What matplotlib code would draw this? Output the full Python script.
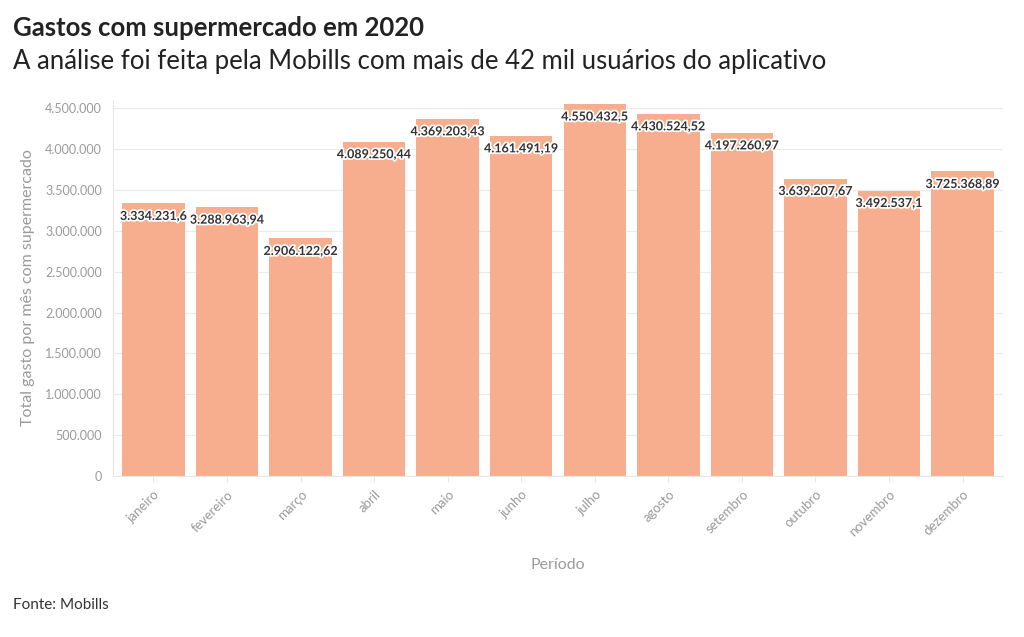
import matplotlib.pyplot as plt
import matplotlib.patheffects as pe
from matplotlib.ticker import FuncFormatter

meses = ["janeiro", "fevereiro", "março", "abril", "maio", "junho",
         "julho", "agosto", "setembro", "outubro", "novembro", "dezembro"]
gastos = [3334231.6, 3288963.94, 2906122.62, 4089250.44, 4369203.43, 4161491.19,
          4550432.5, 4430524.52, 4197260.97, 3639207.67, 3492537.1, 3725368.89]
rotulos = ["3.334.231,6", "3.288.963,94", "2.906.122,62", "4.089.250,44",
           "4.369.203,43", "4.161.491,19", "4.550.432,5", "4.430.524,52",
           "4.197.260,97", "3.639.207,67", "3.492.537,1", "3.725.368,89"]

plt.rcParams['font.family'] = ['Lato', 'DejaVu Sans']

cinza = "#9a9a9a"

fig = plt.figure(figsize=(10.24, 6.37), dpi=100)
ax = fig.add_axes([113 / 1024, 1 - 476 / 637, 890 / 1024, (476 - 100) / 637])

x = range(len(meses))
ax.bar(x, gastos, width=0.85, color="#F6AE8F", zorder=2)

for i, (v, r) in enumerate(zip(gastos, rotulos)):
    ax.annotate(r, (i, v), xytext=(0, -9), textcoords="offset points",
                ha="center", va="center", fontsize=9, fontweight="bold",
                color="#333333", zorder=3,
                path_effects=[pe.withStroke(linewidth=2.5, foreground="white")])

ax.set_xlim(-0.55, 11.55)
ax.set_ylim(0, 4.6e6)
ax.set_yticks(range(0, 4500001, 500000))
ax.yaxis.set_major_formatter(FuncFormatter(lambda v, p: f"{int(v):,}".replace(",", ".")))
ax.grid(axis="y", color="#ebebeb", linewidth=0.8, zorder=0)
ax.set_xticks(list(x))
ax.set_xticklabels(meses, rotation=45, ha="right", rotation_mode="anchor")

for s in ["top", "right"]:
    ax.spines[s].set_visible(False)
ax.spines["left"].set_color("#e6e6e6")
ax.spines["bottom"].set_color("#e6e6e6")
ax.tick_params(axis="both", colors=cinza, labelsize=9, length=4)
ax.tick_params(axis="y", length=0, pad=8)
ax.tick_params(axis="x", color="#e6e6e6", pad=5, labelsize=9.5)

ax.set_ylabel("Total gasto por mês com supermercado", color=cinza, fontsize=11.5, labelpad=7)
ax.set_xlabel("Período", color=cinza, fontsize=11.5, labelpad=14)

fig.text(13 / 1024, 1 - 28 / 637, "Gastos com supermercado em 2020", fontsize=18.5,
         fontweight="bold", color="#222222", va="center")
fig.text(13 / 1024, 1 - 61 / 637, "A análise foi feita pela Mobills com mais de 42 mil usuários do aplicativo",
         fontsize=18.5, color="#222222", va="center")
fig.text(13 / 1024, 1 - 605 / 637, "Fonte: Mobills", fontsize=11, color="#333333", va="center")

fig.savefig("out.png", dpi=100)
